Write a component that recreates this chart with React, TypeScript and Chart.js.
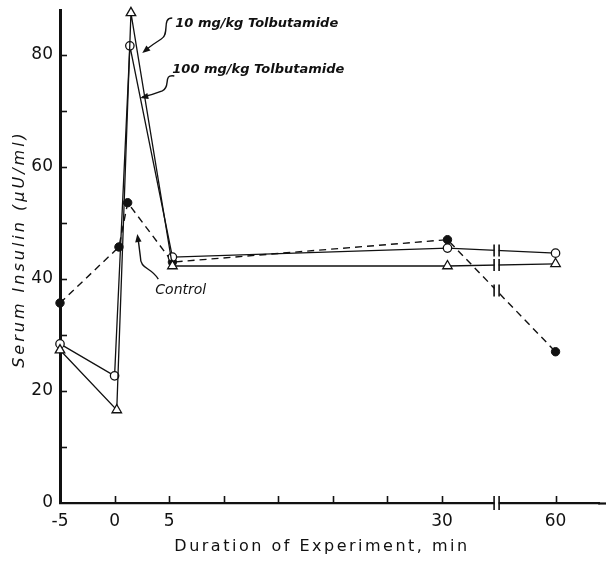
import React, { useEffect, useRef } from "react";
import { Chart, registerables } from "chart.js";

Chart.register(...registerables);

// ---- data (minutes, µU/ml) ----
const tolb10Times = [-5, 0.2, 1.5, 5.3, 30.5, 60];
const tolb10Values = [27.3, 16.6, 87.5, 42.3, 42.3, 42.7];
const tolb100Times = [-5, 0, 1.4, 5.3, 30.5, 60];
const tolb100Values = [28.4, 22.7, 81.6, 43.9, 45.5, 44.6];
const controlTimes = [-5, 0.4, 1.2, 5.3, 30.5, 60];
const controlValues = [35.7, 45.7, 53.6, 43.0, 47.0, 27.0];

const xTickValues = [-5, 0, 5, 10, 15, 20, 25, 30, 60];
const xTickLabels = ["-5", "0", "5", "", "", "", "", "30", "60"];
const yTickValues = [0, 10, 20, 30, 40, 50, 60, 70, 80];
const yTickLabels = ["0", "", "20", "", "40", "", "60", "", "80"];

const xTitle = "Duration of Experiment, min";
const yTitle = "Serum Insulin (\u03bcU/ml)";
const label10 = "10 mg/kg Tolbutamide";
const label100 = "100 mg/kg Tolbutamide";
const labelControl = "Control";

// broken time axis: linear up to the break, compressed after it
const BREAK_AT = 35;
const plotX = (t: number) => (t <= BREAK_AT ? t : 40.4 + (t - 60) * 0.3);

const toPoints = (ts: number[], vs: number[]) => ts.map((t, i) => ({ x: plotX(t), y: vs[i] }));

const FONT = "'DejaVu Sans', sans-serif";

const decor = {
  id: "decor",
  afterDraw(chart: any) {
    const { ctx, scales } = chart;
    const x = scales.x;
    const y = scales.y;
    const x0 = x.getPixelForValue(-5);
    const y0 = y.getPixelForValue(0);
    ctx.save();
    ctx.strokeStyle = "#111";
    ctx.fillStyle = "#111";
    ctx.lineCap = "butt";

    // x axis line continues to the right edge of the canvas
    ctx.lineWidth = 2.2;
    ctx.beginPath();
    ctx.moveTo(chart.chartArea.right - 1, y0 + 0.5);
    ctx.lineTo(chart.width, y0 + 0.5);
    ctx.stroke();

    // inward tick marks
    ctx.lineWidth = 1.6;
    yTickValues.forEach((v) => {
      if (v === 0) return;
      const py = Math.round(y.getPixelForValue(v)) + 0.5;
      ctx.beginPath();
      ctx.moveTo(x0, py);
      ctx.lineTo(x0 + 7, py);
      ctx.stroke();
    });
    xTickValues.forEach((v) => {
      if (v === -5) return;
      const px = Math.round(x.getPixelForValue(plotX(v))) + 0.5;
      ctx.beginPath();
      ctx.moveTo(px, y0);
      ctx.lineTo(px, y0 - 7);
      ctx.stroke();
    });

    // break marks
    const bx = x.getPixelForValue(BREAK_AT);
    const drawBreak = (py: number, h: number) => {
      ctx.save();
      ctx.fillStyle = "#fff";
      ctx.fillRect(bx - 2, py - 3, 4, 6);
      ctx.restore();
      ctx.lineWidth = 1.6;
      ctx.beginPath();
      ctx.moveTo(bx - 2.5, py - h);
      ctx.lineTo(bx - 2.5, py + h);
      ctx.moveTo(bx + 2.5, py - h);
      ctx.lineTo(bx + 2.5, py + h);
      ctx.stroke();
    };
    drawBreak(y0, 7);
    chart.data.datasets.forEach((ds: any) => {
      const pts = ds.data;
      for (let i = 0; i < pts.length - 1; i++) {
        if (pts[i].x <= BREAK_AT && pts[i + 1].x >= BREAK_AT) {
          const f = (BREAK_AT - pts[i].x) / (pts[i + 1].x - pts[i].x);
          const v = pts[i].y + f * (pts[i + 1].y - pts[i].y);
          drawBreak(y.getPixelForValue(v), 6);
        }
      }
    });

    // annotations
    const arrowHead = (fx: number, fy: number, tx: number, ty: number) => {
      const a = Math.atan2(ty - fy, tx - fx);
      const L = 8, W = 3.2;
      ctx.beginPath();
      ctx.moveTo(tx, ty);
      ctx.lineTo(tx - L * Math.cos(a) + W * Math.sin(a), ty - L * Math.sin(a) - W * Math.cos(a));
      ctx.lineTo(tx - L * Math.cos(a) - W * Math.sin(a), ty - L * Math.sin(a) + W * Math.cos(a));
      ctx.closePath();
      ctx.fill();
    };
    ctx.textBaseline = "middle";
    ctx.textAlign = "left";
    ctx.font = `italic bold 13px ${FONT}`;
    (ctx as any).letterSpacing = "0px";

    // 10 mg/kg
    let ax = x.getPixelForValue(5.56);
    let ay = y.getPixelForValue(85.5);
    ctx.fillText(label10, ax, ay);
    ctx.lineWidth = 1.4;
    ctx.beginPath();
    ctx.moveTo(ax - 3, ay - 6);
    ctx.bezierCurveTo(ax - 14, ay - 6, ax - 5, ay + 10, ax - 14, ay + 15);
    ctx.quadraticCurveTo(ax - 22, ay + 20, ax - 31, ay + 27);
    ctx.stroke();
    arrowHead(ax - 22, ay + 20, ax - 33, ay + 29);

    // 100 mg/kg
    ax = x.getPixelForValue(5.29);
    ay = y.getPixelForValue(77.3);
    ctx.fillText(label100, ax, ay);
    ctx.beginPath();
    ctx.moveTo(ax + 2, ay + 6);
    ctx.bezierCurveTo(ax - 10, ay + 4, ax - 1, ay + 17, ax - 10, ay + 21);
    ctx.quadraticCurveTo(ax - 20, ay + 25, ax - 30, ay + 27);
    ctx.stroke();
    arrowHead(ax - 20, ay + 25, ax - 32, ay + 28);

    // Control
    ax = x.getPixelForValue(3.73);
    ay = y.getPixelForValue(38.0);
    ctx.font = `italic 14px ${FONT}`;
    ctx.fillText(labelControl, ax, ay);
    ctx.beginPath();
    ctx.moveTo(ax + 3, ay - 11);
    ctx.bezierCurveTo(ax - 5, ay - 24, ax - 15, ay - 20, ax - 15, ay - 34);
    ctx.lineTo(ax - 17, ay - 50);
    ctx.stroke();
    arrowHead(ax - 15, ay - 34, ax - 18, ay - 56);

    // axis titles
    ctx.font = `16px ${FONT}`;
    (ctx as any).letterSpacing = "2.5px";
    ctx.textAlign = "center";
    ctx.textBaseline = "middle";
    ctx.fillText(xTitle, 322, 547);
    ctx.save();
    ctx.translate(20, 249);
    ctx.rotate(-Math.PI / 2);
    ctx.font = `italic 16px ${FONT}`;
    (ctx as any).letterSpacing = "3px";
    ctx.fillText(yTitle, 0, 0);
    ctx.restore();
    ctx.restore();
  },
};

export default function App() {
  const ref = useRef<HTMLCanvasElement>(null);
  useEffect(() => {
    const canvas = ref.current;
    if (!canvas) return;
    const chart = new Chart(canvas, {
      type: "line",
      data: {
        datasets: [
          {
            label: label10,
            data: toPoints(tolb10Times, tolb10Values),
            borderColor: "#111",
            borderWidth: 1.3,
            pointStyle: "triangle",
            pointRadius: 5.5,
            pointBackgroundColor: "#fff",
            pointBorderColor: "#111",
            pointBorderWidth: 1.3,
            tension: 0,
            clip: false,
          },
          {
            label: label100,
            data: toPoints(tolb100Times, tolb100Values),
            borderColor: "#111",
            borderWidth: 1.3,
            pointStyle: "circle",
            pointRadius: 4.2,
            pointBackgroundColor: "#fff",
            pointBorderColor: "#111",
            pointBorderWidth: 1.3,
            tension: 0,
            clip: false,
          },
          {
            label: labelControl,
            data: toPoints(controlTimes, controlValues),
            borderColor: "#111",
            borderWidth: 1.4,
            borderDash: [7, 5],
            pointStyle: "circle",
            pointRadius: 4.2,
            pointBackgroundColor: "#111",
            pointBorderColor: "#111",
            pointBorderWidth: 1,
            tension: 0,
            clip: false,
          },
        ],
      },
      options: {
        animation: false,
        responsive: true,
        maintainAspectRatio: false,
        layout: { padding: { top: 10, right: 0, left: 0, bottom: 0 } },
        plugins: { legend: { display: false }, tooltip: { enabled: false } },
        scales: {
          x: {
            type: "linear",
            min: -5,
            max: 44.4,
            grid: { display: false, drawTicks: false },
            border: { display: true, color: "#111", width: 2.2 },
            afterBuildTicks: (scale: any) => {
              scale.ticks = xTickValues.map((v) => ({ value: plotX(v) }));
            },
            afterFit: (scale: any) => {
              scale.height = 66;
              scale.paddingLeft = 0;
              scale.paddingRight = 0;
            },
            ticks: {
              autoSkip: false,
              maxRotation: 0,
              padding: 8,
              color: "#111",
              font: { family: FONT, size: 17 },
              callback: (_v: any, i: number) => xTickLabels[i],
            },
          },
          y: {
            min: 0,
            max: 88,
            grid: { display: false, drawTicks: false },
            border: { display: true, color: "#111", width: 3 },
            afterBuildTicks: (scale: any) => {
              scale.ticks = yTickValues.map((v) => ({ value: v }));
            },
            afterFit: (scale: any) => {
              scale.width = 60;
              scale.paddingTop = 0;
              scale.paddingBottom = 0;
            },
            ticks: {
              autoSkip: false,
              padding: 7,
              color: "#111",
              font: { family: FONT, size: 17 },
              callback: (_v: any, i: number) => yTickLabels[i],
            },
          },
        },
      },
      plugins: [decor],
    });
    return () => chart.destroy();
  }, []);
  return (
    <div style={{ position: "absolute", left: 0, top: 0, width: 606, height: 569, background: "#fff" }}>
      <canvas ref={ref} />
    </div>
  );
}
